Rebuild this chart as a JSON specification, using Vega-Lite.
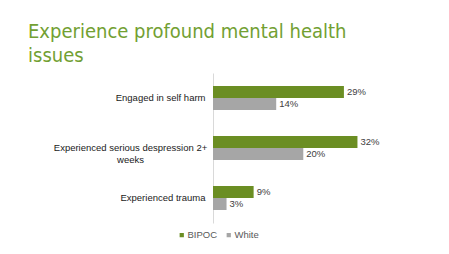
{
  "$schema": "https://vega.github.io/schema/vega-lite/v6.json",
  "autosize": {"type": "none"},
  "width": 158,
  "height": 150,
  "padding": {"left": 213, "top": 73, "right": 78, "bottom": 31},
  "background": "white",
  "title": {
    "text": ["Experience profound mental health", "issues"],
    "anchor": "start",
    "frame": "group",
    "dx": -185,
    "offset": 7,
    "font": "DejaVu Sans Condensed",
    "fontSize": 20,
    "fontWeight": "normal",
    "color": "#72a032",
    "lineHeight": 24
  },
  "data": {
    "values": [
      {"category": "Engaged in self harm", "group": "BIPOC", "value": 0.29},
      {"category": "Engaged in self harm", "group": "White", "value": 0.14},
      {"category": "Experienced serious despression 2+ weeks", "group": "BIPOC", "value": 0.32},
      {"category": "Experienced serious despression 2+ weeks", "group": "White", "value": 0.20},
      {"category": "Experienced trauma", "group": "BIPOC", "value": 0.09},
      {"category": "Experienced trauma", "group": "White", "value": 0.03}
    ]
  },
  "encoding": {
    "y": {
      "field": "category",
      "type": "nominal",
      "sort": null,
      "scale": {"paddingInner": 0.52, "paddingOuter": 0.26},
      "axis": {
        "title": null,
        "ticks": false,
        "domainColor": "#d9d9d9",
        "labelAlign": {"condition": {"test": "datum.value == 'Experienced serious despression 2+ weeks'", "value": "center"}, "value": "right"},
        "labelPadding": {"condition": {"test": "datum.value == 'Experienced serious despression 2+ weeks'", "value": 83}, "value": 8},
        "labelFont": "Liberation Sans",
        "labelFontSize": 9.5,
        "labelColor": "#1a1a1a",
        "labelLimit": 300,
        "labelLineHeight": 12,
        "labelExpr": "datum.value == 'Experienced serious despression 2+ weeks' ? ['Experienced serious despression 2+', 'weeks'] : datum.value"
      }
    },
    "yOffset": {"field": "group", "type": "nominal", "scale": {"paddingInner": 0, "paddingOuter": 0}},
    "x": {
      "field": "value",
      "type": "quantitative",
      "scale": {"domain": [0, 0.35]},
      "axis": null
    }
  },
  "layer": [
    {
      "mark": {"type": "bar"},
      "encoding": {
        "color": {
          "field": "group",
          "type": "nominal",
          "scale": {"domain": ["BIPOC", "White"], "range": ["#6b8e23", "#a6a6a6"]},
          "legend": {
            "title": null,
            "orient": "none",
            "direction": "horizontal",
            "legendX": -36,
            "legendY": 157,
            "symbolType": "square",
            "symbolSize": 18,
            "symbolStrokeWidth": 0,
            "labelFont": "Liberation Sans",
            "labelFontSize": 9.5,
            "labelColor": "#595959",
            "labelOffset": 1,
            "columnPadding": 6
          }
        }
      }
    },
    {
      "mark": {"type": "text", "align": "left", "dx": 3, "font": "Liberation Sans", "fontSize": 9.5, "color": "#404040"},
      "encoding": {
        "text": {"field": "value", "type": "quantitative", "format": ".0%"}
      }
    }
  ],
  "config": {"view": {"stroke": null}}
}
